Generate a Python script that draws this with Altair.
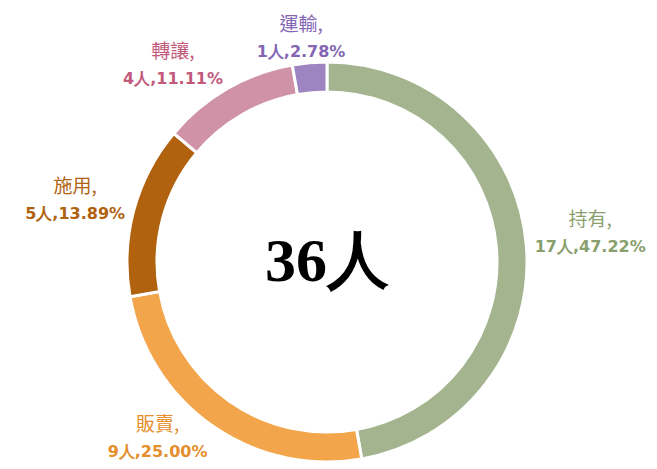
import math
import altair as alt
import pandas as pd

categories = ["持有", "販賣", "施用", "轉讓", "運輸"]
counts = [17, 9, 5, 4, 1]
order = [1, 2, 3, 4, 5]
fill_colors = ["#A3B48E", "#F2A54A", "#B0620F", "#D092A7", "#9D85C2"]
text_colors = ["#8A9F6E", "#E58E2C", "#B0620F", "#C25A7C", "#8466B4"]
total_label = "36人"

total = sum(counts)
cx, cy = 319, 254
outer, inner = 200, 170

# label layout derived from slice angles (outside-end placement)
vals = [f"{n}人,{n / total * 100:.2f}%" for n in counts]
lx, ly = [], []
cum = 0
for n, v in zip(counts, vals):
    mid = (cum + n / 2) / total * 2 * math.pi
    cum += n
    s, c = math.sin(mid), math.cos(mid)
    r0 = outer + 10
    hw = 5.0 * len(v) + 4
    hh = 15
    x = cx + r0 * s + hw * max(-1, min(1, 2 * s))
    y = cy - r0 * c - hh * max(-1, min(1, 2 * c)) - 8 * max(0, s)
    y = min(y, cy + 176)
    lx.append(x)
    ly.append(y)

df = pd.DataFrame({
    "cat": categories,
    "lab": categories,
    "n": counts,
    "ord": order,
    "name": [c + "," for c in categories],
    "val": vals,
    "lx": lx,
    "ly": ly,
})

arcs = alt.Chart(df).mark_arc(outerRadius=outer, innerRadius=inner, stroke="white", strokeWidth=3).encode(
    theta=alt.Theta("n:Q", stack=True),
    order=alt.Order("ord:Q"),
    color=alt.Color("cat:N", scale=alt.Scale(domain=categories, range=fill_colors), legend=None),
    x=alt.value(cx), y=alt.value(cy),
)

tcol = alt.Color("lab:N", scale=alt.Scale(domain=categories, range=text_colors), legend=None)
lbl = alt.Chart(df).encode(
    x=alt.X("lx:Q", scale=None), y=alt.Y("ly:Q", scale=None), color=tcol
)
names = lbl.mark_text(dy=-13, font="Noto Sans CJK TC", fontSize=19).encode(text="name:N")
valt = lbl.mark_text(dy=14, font="DejaVu Sans", fontWeight="bold", fontSize=16).encode(text="val:N")

center = alt.Chart(pd.DataFrame({"t": [total_label]})).mark_text(
    font="Liberation Serif", fontWeight="bold", fontSize=62, color="black", baseline="middle"
).encode(text="t:N", x=alt.value(cx), y=alt.value(cy))

chart = alt.layer(arcs, names, valt, center).resolve_scale(color="independent").properties(
    width=641, height=453, padding=0, autosize=alt.AutoSizeParams(type="none")
).configure_view(stroke=None)

chart.save("out.html", embed_options={"renderer": "svg", "actions": False})
